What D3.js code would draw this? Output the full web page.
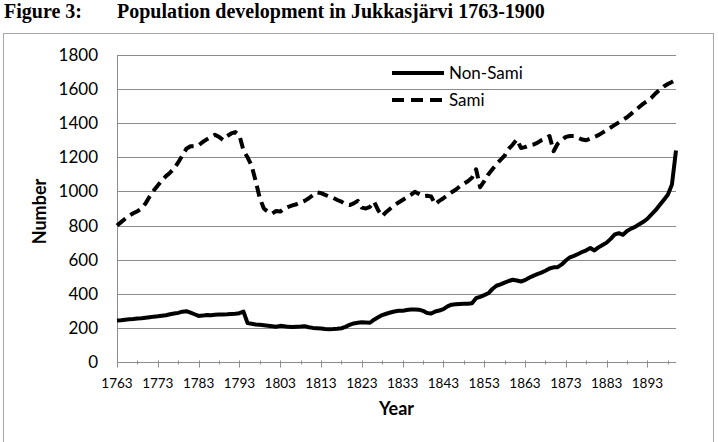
<!DOCTYPE html>
<html>
<head>
<meta charset="utf-8">
<script src="https://cdn.jsdelivr.net/npm/d3@7"></script>
<style>
  body { margin: 0; background: #fff; }
  svg { display: block; }
  .tick-y { font-family: Lato, sans-serif; font-size: 17px; fill: #000; }
  .tick-x { font-family: Lato, sans-serif; font-size: 13.5px; fill: #000; }
  .axis-title { font-family: Lato, sans-serif; font-size: 18px; font-weight: bold; fill: #000; }
  .legend-text { font-family: Lato, sans-serif; font-size: 17px; fill: #000; }
  .fig-title { font-family: "Liberation Serif", "Times New Roman", serif; font-size: 20px; font-weight: bold; }
</style>
</head>
<body>
<svg width="718" height="442"></svg>
<script>
// Population of Jukkasjarvi, one value per year 1763..1900
var firstYear = 1763;
var lastYear = 1900;

var nonSami = [
    243, 245, 248, 250, 252, 255, 257, 260, 263, 266,   // 1763-1772
    268, 271, 274, 280, 284, 288, 295, 298, 290, 280,   // 1773-1782
    270, 272, 276, 274, 277, 278, 279, 280, 282, 283,   // 1783-1792
    286, 295, 228, 224, 220, 218, 216, 213, 210, 207,   // 1793-1802
    212, 210, 206, 205, 207, 208, 210, 204, 200, 198,   // 1803-1812
    196, 193, 192, 193, 195, 198, 206, 218, 226, 230,   // 1813-1822
    233, 232, 230, 248, 262, 275, 283, 290, 296, 300,   // 1823-1832
    300, 305, 308, 308, 307, 300, 287, 284, 296, 302,   // 1833-1842
    310, 326, 336, 338, 340, 341, 342, 345, 374, 382,   // 1843-1852
    392, 403, 428, 447, 455, 465, 475, 482, 478, 472,   // 1853-1862
    480, 494, 505, 515, 524, 535, 548, 555, 556, 572,   // 1863-1872
    595, 614, 622, 633, 645, 655, 668, 654, 672, 686,   // 1873-1882
    700, 722, 748, 755, 746, 768, 782, 792, 808, 822,   // 1883-1892
    840, 866, 890, 920, 950, 980, 1040, 1240            // 1893-1900
];

var sami = [
    800, 820, 840, 858, 872, 884, 900, 930, 970, 1005,        // 1763-1772
    1035, 1065, 1090, 1110, 1135, 1170, 1210, 1250, 1265, 1265, // 1773-1782
    1270, 1290, 1305, 1320, 1332, 1320, 1302, 1325, 1340, 1348, // 1783-1792
    1330, 1240, 1200, 1150, 1060, 960, 900, 880, 870, 885,      // 1793-1802
    882, 900, 910, 918, 925, 935, 945, 960, 978, 995,           // 1803-1812
    990, 980, 970, 962, 950, 940, 925, 920, 930, 945,           // 1813-1822
    905, 900, 910, 940, 890, 855, 880, 900, 920, 935,           // 1823-1832
    950, 965, 980, 998, 985, 972, 975, 970, 925, 945,           // 1833-1842
    960, 978, 995, 1010, 1030, 1045, 1060, 1080, 1130, 1025,    // 1843-1852
    1060, 1100, 1130, 1160, 1185, 1210, 1250, 1275, 1305, 1255, // 1853-1862
    1260, 1270, 1275, 1285, 1300, 1310, 1325, 1236, 1280, 1300, // 1863-1872
    1320, 1325, 1325, 1315, 1304, 1300, 1310, 1320, 1330, 1345, // 1873-1882
    1360, 1375, 1390, 1405, 1420, 1435, 1455, 1475, 1495, 1515, // 1883-1892
    1530, 1550, 1575, 1595, 1615, 1630, 1642, 1655              // 1893-1900
];

var yTicks = [0, 200, 400, 600, 800, 1000, 1200, 1400, 1600, 1800];
var xLabelYears = [1763, 1773, 1783, 1793, 1803, 1813, 1823, 1833, 1843, 1853, 1863, 1873, 1883, 1893];
var seriesNames = ['Non-Sami', 'Sami'];

var svg = d3.select('svg');

// plot area (pixels)
var plot = {l: 117, r: 676, t: 55, b: 362};

var x = d3.scaleLinear().domain([firstYear, lastYear]).range([plot.l, plot.r]);
var y = d3.scaleLinear().domain([0, 1800]).range([plot.b, plot.t]);

// outer chart frame
svg.append('rect')
    .attr('x', 3.5).attr('y', 33.5)
    .attr('width', 710).attr('height', 430)
    .attr('fill', 'none')
    .attr('stroke', '#a6a6a6')
    .attr('stroke-width', 1);

// title
svg.append('text').attr('class', 'fig-title')
    .attr('x', 4).attr('y', 18)
    .text('Figure 3:');
svg.append('text').attr('class', 'fig-title')
    .attr('x', 117).attr('y', 18)
    .text('Population development in Jukkasjärvi 1763-1900');

// horizontal gridlines + y axis labels
var yAxis = d3.axisLeft(y)
    .tickValues(yTicks)
    .tickFormat(d3.format('d'))
    .tickSize(-(plot.r - plot.l))
    .tickPadding(19);
var yG = svg.append('g')
    .attr('transform', 'translate(' + plot.l + ',0)')
    .call(yAxis);
yG.select('.domain').remove();
yG.selectAll('.tick line').attr('stroke', '#8c8c8c').attr('shape-rendering', 'crispEdges');
yG.selectAll('.tick text').attr('class', 'tick-y');
yG.attr('font-family', null).attr('font-size', null);

// left axis line
svg.append('line')
    .attr('x1', plot.l + 0.5).attr('x2', plot.l + 0.5)
    .attr('y1', plot.t).attr('y2', plot.b)
    .attr('stroke', '#8c8c8c');

// x axis: tick marks every 5 years, labels every 10
var allTicks = d3.range(firstYear, lastYear + 1, 5);
var xG = svg.append('g').attr('transform', 'translate(0,' + (plot.b + 0.5) + ')');
xG.append('line')
    .attr('x1', plot.l).attr('x2', plot.r)
    .attr('stroke', '#8c8c8c');
xG.selectAll('.xt').data(allTicks).enter().append('line')
    .attr('class', 'xt')
    .attr('x1', function(d) { return Math.round(x(d)) + 0.5; })
    .attr('x2', function(d) { return Math.round(x(d)) + 0.5; })
    .attr('y1', -2)
    .attr('y2', function(d) { return (d - firstYear) % 10 === 0 ? 5 : 2; })
    .attr('stroke', '#8c8c8c');
xG.selectAll('.tick-x').data(xLabelYears).enter().append('text')
    .attr('class', 'tick-x')
    .attr('x', function(d) { return x(d); })
    .attr('y', 25)
    .attr('text-anchor', 'middle')
    .text(function(d) { return d; });

// axis titles
svg.append('text').attr('class', 'axis-title')
    .attr('x', (plot.l + plot.r) / 2).attr('y', 415)
    .attr('text-anchor', 'middle')
    .text('Year');
svg.append('text').attr('class', 'axis-title')
    .attr('transform', 'translate(46,' + ((plot.t + plot.b) / 2 + 3) + ') rotate(-90)')
    .attr('text-anchor', 'middle')
    .text('Number');

// lines
var years = d3.range(firstYear, lastYear + 1);
var line = d3.line()
    .x(function(d, i) { return x(years[i]); })
    .y(function(d) { return y(d); });

svg.append('path')
    .datum(sami)
    .attr('d', line)
    .attr('fill', 'none')
    .attr('stroke', '#000')
    .attr('stroke-width', 4)
    .attr('stroke-dasharray', '11,6')
    .attr('stroke-linejoin', 'round');

svg.append('path')
    .datum(nonSami)
    .attr('d', line)
    .attr('fill', 'none')
    .attr('stroke', '#000')
    .attr('stroke-width', 4)
    .attr('stroke-linejoin', 'round');

// legend
var legend = svg.append('g').attr('transform', 'translate(392,73)');
legend.selectAll('line').data(seriesNames).enter().append('line')
    .attr('x1', 0).attr('x2', 52)
    .attr('y1', function(d, i) { return i * 27; })
    .attr('y2', function(d, i) { return i * 27; })
    .attr('stroke', '#000')
    .attr('stroke-width', 4)
    .attr('stroke-dasharray', function(d, i) { return i === 1 ? '12,7' : null; });
legend.selectAll('text').data(seriesNames).enter().append('text')
    .attr('class', 'legend-text')
    .attr('x', 57)
    .attr('y', function(d, i) { return i * 27 + 6; })
    .text(function(d) { return d; });
</script>
</body>
</html>
